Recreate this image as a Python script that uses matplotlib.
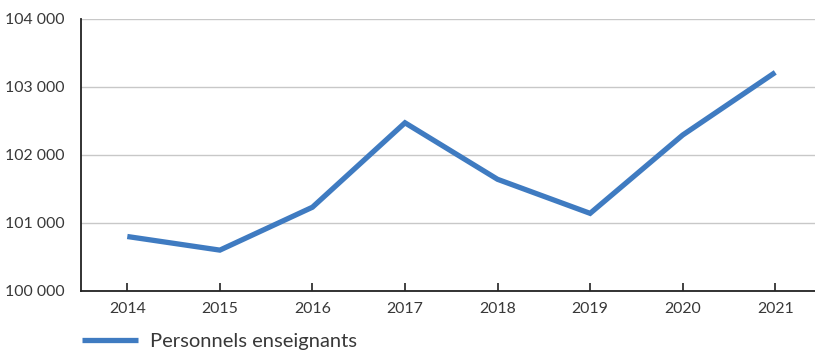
import matplotlib
matplotlib.use("Agg")
import matplotlib.pyplot as plt
from matplotlib.ticker import FixedLocator, FuncFormatter

# Effectifs des personnels enseignants par année
years = ["2014", "2015", "2016", "2017", "2018", "2019", "2020", "2021"]
teachers = [100800, 100600, 101230, 102470, 101640, 101140, 102290, 103210]
series_label = "Personnels enseignants"
y_ticks = [100000, 101000, 102000, 103000, 104000]

plt.rcParams["font.family"] = ["Lato", "DejaVu Sans"]

fig = plt.figure(figsize=(8.15, 3.51), dpi=100)
ax = fig.add_axes([0.0994, 0.171, 0.9086, 0.776])

x = list(range(len(years)))
line, = ax.plot(x, teachers, color="#3f7bc1", linewidth=3.8,
                solid_joinstyle="miter", solid_capstyle="butt", label=series_label)

ax.set_xlim(-0.5, 7.5)
ax.set_ylim(y_ticks[0], y_ticks[-1])
ax.set_xticks(x)
ax.set_xticklabels(years)
ax.yaxis.set_major_locator(FixedLocator(y_ticks))
ax.yaxis.set_major_formatter(FuncFormatter(lambda v, p: f"{int(v):,}".replace(",", " ")))

ax.grid(axis="y", color="#c8c8c8", linewidth=1.0)
ax.set_axisbelow(True)
for side in ("top", "right"):
    ax.spines[side].set_visible(False)
for side in ("left", "bottom"):
    ax.spines[side].set_color("#222222")
    ax.spines[side].set_linewidth(1.3)

ax.tick_params(axis="x", direction="in", length=6, width=1.2, color="#222222",
               pad=8, labelsize=11.4, labelcolor="#383838")
ax.tick_params(axis="y", length=0, pad=12, labelsize=11.4, labelcolor="#383838")

fig.legend(handles=[line], loc="center left", bbox_to_anchor=(0.1006, 0.028),
           frameon=False, handlelength=2.78, handletextpad=0.6, borderpad=0,
           fontsize=14.5, labelcolor="#383838", borderaxespad=0)

fig.savefig("out.png", dpi=100)
